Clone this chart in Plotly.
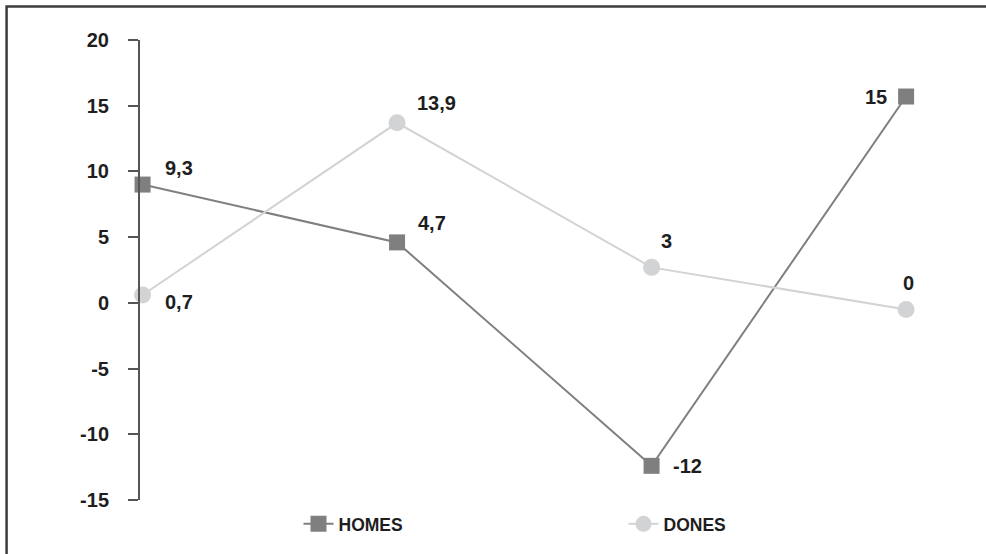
import plotly.graph_objects as go

categories = [0, 1, 2, 3]
homes_values = [9.0, 4.6, -12.4, 15.7]
homes_labels = ["9,3", "4,7", "-12", "15"]
dones_values = [0.6, 13.7, 2.7, -0.5]
dones_labels = ["0,7", "13,9", "3", "0"]
y_ticks = [-15, -10, -5, 0, 5, 10, 15, 20]
y_tick_labels = ["-15", "-10", "-5", "0", "5", "10", "15", "20"]

FONT = "Liberation Sans, Arial, sans-serif"
TXT = "#1e1e1e"
HOMES_C = "#7f7f7f"
DONES_C = "#d2d3d5"

# label placement styles (anchor, x shift, y shift in px)
homes_label_style = [("left", 20, 17), ("left", 19, 19), ("left", 19, 0), ("right", -17, 0)]
dones_label_style = [("left", 20, -7), ("left", 18, 20), ("center", 15, 26), ("center", 2, 26)]

fig = go.Figure()
fig.add_trace(go.Scatter(
    x=categories, y=homes_values, name="HOMES", mode="lines+markers",
    line=dict(color=HOMES_C, width=2),
    marker=dict(symbol="square", size=16, color=HOMES_C),
    cliponaxis=False,
))
fig.add_trace(go.Scatter(
    x=categories, y=dones_values, name="DONES", mode="lines+markers",
    line=dict(color=DONES_C, width=2),
    marker=dict(symbol="circle", size=17, color=DONES_C),
    cliponaxis=False,
))

annotations = []
for xs, ys, labels, styles in [(categories, homes_values, homes_labels, homes_label_style),
                                (categories, dones_values, dones_labels, dones_label_style)]:
    for x, y, t, (anc, dx, dy) in zip(xs, ys, labels, styles):
        annotations.append(dict(
            x=x, y=y, xref="x", yref="y", text=t, showarrow=False,
            xanchor=anc, yanchor="middle", xshift=dx, yshift=dy,
            font=dict(family=FONT, size=20, color=TXT, weight="bold"),
        ))

fig.update_layout(
    width=986, height=554,
    margin=dict(l=139.5, r=29, t=40, b=51),
    paper_bgcolor="white", plot_bgcolor="white",
    font=dict(family=FONT, size=17, color=TXT),
    showlegend=True,
    legend=dict(orientation="h", x=0.194, xanchor="left", y=-0.052, yanchor="middle",
                font=dict(family=FONT, size=17.5, color=TXT, weight="bold"),
                entrywidth=280, entrywidthmode="pixels", bgcolor="rgba(0,0,0,0)"),
    xaxis=dict(visible=False, range=[-0.01, 3.2]),
    yaxis=dict(range=[-15, 20], tickvals=y_ticks, ticktext=y_tick_labels,
               showgrid=False, zeroline=False,
               showline=True, linecolor="#555555", linewidth=2,
               ticks="outside", ticklen=10, tickwidth=2, tickcolor="#555555",
               ticklabelstandoff=15,
               tickfont=dict(family=FONT, size=20, color=TXT, weight="bold")),
    annotations=annotations,
    shapes=[dict(type="rect", xref="paper", yref="paper",
                 x0=-0.1633, x1=1.3, y0=-0.3, y1=1.073,
                 line=dict(color="#3c3c3c", width=2.5), layer="above")],
)

fig.write_html("out.html")
